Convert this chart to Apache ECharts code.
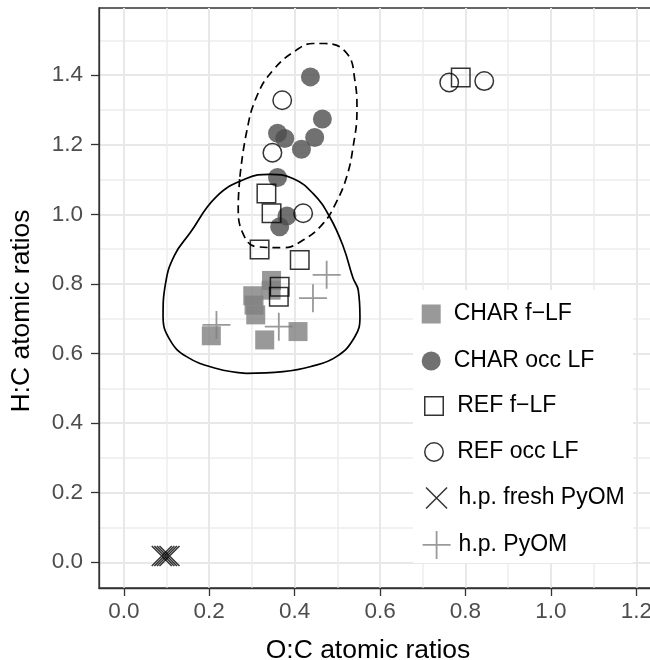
<!DOCTYPE html>
<html>
<head>
<meta charset="utf-8">
<script src="https://cdn.jsdelivr.net/npm/echarts@6.0.0/dist/echarts.min.js"></script>
<style>
  html, body { margin: 0; padding: 0; background: #fff; }
  #chart { width: 650px; height: 660px; }
</style>
</head>
<body>
<div id="chart"></div>
<script>
// values (O:C on x, H:C on y)
var charFlfX = [0.205, 0.330, 0.408, 0.302, 0.305, 0.309, 0.346, 0.345];
var charFlfY = [0.651, 0.639, 0.663, 0.766, 0.739, 0.711, 0.810, 0.782];

var charOccX = [0.437, 0.465, 0.360, 0.377, 0.447, 0.416, 0.360, 0.382, 0.365];
var charOccY = [1.395, 1.274, 1.233, 1.218, 1.221, 1.187, 1.106, 0.995, 0.964];

var refFlfX = [0.789, 0.334, 0.346, 0.318, 0.412, 0.365, 0.363];
var refFlfY = [1.393, 1.060, 1.003, 0.899, 0.869, 0.792, 0.763];

var refOccX = [0.762, 0.844, 0.371, 0.348, 0.420];
var refOccY = [1.379, 1.383, 1.328, 1.177, 1.003];

var freshX = [0.089, 0.095, 0.101, 0.107];
var freshY = [0.018, 0.018, 0.018, 0.018];

var pyomX = [0.217, 0.363, 0.443, 0.475];
var pyomY = [0.682, 0.677, 0.759, 0.826];

// outline of the solid (CHAR f-LF) and dashed (CHAR occ LF) ellipses
var solidX = [0.287, 0.217, 0.147, 0.108, 0.092, 0.098, 0.119, 0.155, 0.217, 0.287, 0.342, 0.396, 0.443, 0.482, 0.514, 0.537, 0.549, 0.553, 0.541, 0.498, 0.436, 0.373, 0.287];
var solidY = [0.543, 0.557, 0.591, 0.639, 0.706, 0.803, 0.883, 0.946, 1.051, 1.103, 1.115, 1.103, 1.060, 0.993, 0.907, 0.816, 0.782, 0.706, 0.648, 0.591, 0.562, 0.548, 0.543];

var dashX = [0.272, 0.287, 0.311, 0.350, 0.404, 0.443, 0.471, 0.522, 0.541, 0.546, 0.537, 0.522, 0.498, 0.467, 0.420, 0.373, 0.311, 0.279, 0.268, 0.272];
var dashY = [1.108, 1.233, 1.338, 1.415, 1.472, 1.491, 1.491, 1.463, 1.386, 1.300, 1.194, 1.108, 1.036, 0.974, 0.926, 0.904, 0.907, 0.945, 1.022, 1.108];

var xMajor = [0, 0.2, 0.4, 0.6, 0.8, 1.0, 1.2];
var xMinor = [0.1, 0.3, 0.5, 0.7, 0.9, 1.1];
var yMajor = [0, 0.2, 0.4, 0.6, 0.8, 1.0, 1.2, 1.4];
var yMinor = [0.1, 0.3, 0.5, 0.7, 0.9, 1.1, 1.3, 1.5];

var names = ['CHAR f\u2212LF', 'CHAR occ LF', 'REF f\u2212LF', 'REF occ LF', 'h.p. fresh PyOM', 'h.p. PyOM'];

var FONT = '"Liberation Sans", Arial, Helvetica, sans-serif';
var CROSS = 'path://M0,0L20,20M20,0L0,20';
var PLUS = 'path://M0,10L20,10M10,0L10,20';

function zip(xs, ys) {
  return xs.map(function(x, i) { return [x, ys[i]]; });
}

function fmt(v) {
  return v.toFixed(1);
}

var styles = [
  { symbol: 'rect', size: 19, item: { color: '#7f7f7f' } },
  { symbol: 'circle', size: 19, item: { color: '#4d4d4d' } },
  { symbol: 'rect', size: 18.5, item: { color: 'transparent', borderColor: '#000', borderWidth: 1.5 } },
  { symbol: 'circle', size: 18.5, item: { color: 'transparent', borderColor: '#000', borderWidth: 1.5 } },
  { symbol: CROSS, size: 20, item: { color: 'transparent', borderColor: '#000', borderWidth: 1.5 } },
  { symbol: PLUS, size: 28, item: { color: 'transparent', borderColor: '#7f7f7f', borderWidth: 1.8 } }
];

var groups = [
  zip(charFlfX, charFlfY),
  zip(charOccX, charOccY),
  zip(refFlfX, refFlfY),
  zip(refOccX, refOccY),
  zip(freshX, freshY),
  zip(pyomX, pyomY)
];

var series = groups.map(function(d, i) {
  return {
    name: names[i],
    type: 'scatter',
    data: d,
    symbol: styles[i].symbol,
    symbolSize: styles[i].size,
    itemStyle: styles[i].item,
    emphasis: { disabled: true },
    z: 2 + i * 0.01
  };
});

series.push({
  type: 'line',
  data: zip(solidX, solidY),
  smooth: 0.45,
  symbol: 'none',
  lineStyle: { color: '#000', width: 1.7 },
  z: 3
});
series.push({
  type: 'line',
  data: zip(dashX, dashY),
  smooth: 0.45,
  symbol: 'none',
  lineStyle: { color: '#000', width: 1.7, type: [8, 5] },
  z: 3
});

// legend: one component per key so each icon keeps its own size
var legendRows = [314, 361, 406, 452, 498, 544];
var legendLeft = [421.7, 421.7, 424, 424, 425.3, 421.7];
var legendPad = [8, 8, 9, 9, 6.5, 3];
var legendFont = 23;

var legends = names.map(function(n, i) {
  var st = styles[i];
  var w = st.size;
  if (i === 4) w = 21;
  var icon = st.symbol;
  return {
    data: [{ name: n, icon: icon, itemStyle: st.item }],
    left: legendLeft[i],
    top: legendRows[i] - Math.max(w, legendFont) / 2,
    orient: 'vertical',
    padding: 0,
    itemWidth: w,
    itemHeight: w,
    selectedMode: false,
    textStyle: { fontFamily: FONT, fontSize: legendFont, color: '#000', padding: [0, 0, 0, legendPad[i]] }
  };
});

function axisPair(dim, major, minor, min, max, extra) {
  var tickLine = { color: '#333333', width: 1.3 };
  var main = {
    type: 'value',
    min: min,
    max: max,
    axisLine: { show: true, onZero: false, lineStyle: tickLine },
    axisTick: { show: true, customValues: major, length: 8, lineStyle: tickLine },
    axisLabel: {
      customValues: major,
      formatter: fmt,
      color: '#4d4d4d',
      fontFamily: FONT,
      fontSize: 22.5,
      margin: dim === 'x' ? 12.5 : 16
    },
    splitLine: { show: true, lineStyle: { color: '#e8e8e8', width: 2 } },
    z: 0
  };
  for (var k in extra) main[k] = extra[k];
  var sub = {
    type: 'value',
    min: min,
    max: max,
    axisLine: { show: false },
    axisTick: { show: false, customValues: minor },
    axisLabel: { show: false },
    splitLine: { show: true, lineStyle: { color: '#ececec', width: 1.5 } },
    z: 0
  };
  if (dim === 'x') sub.position = 'bottom';
  else sub.position = 'left';
  return [main, sub];
}

var xAxes = axisPair('x', xMajor, xMinor, -0.058, 1.30, {
  name: 'O:C atomic ratios',
  nameLocation: 'middle',
  nameGap: 49,
  nameTextStyle: { fontFamily: FONT, fontSize: 26.5, color: '#000', padding: [0, 42, 0, 0] }
});
var yAxes = axisPair('y', yMajor, yMinor, -0.074, 1.593, {
  name: 'H:C atomic ratios',
  nameLocation: 'middle',
  nameGap: 64,
  nameTextStyle: { fontFamily: FONT, fontSize: 26.5, color: '#000', padding: [0, 26, 0, 0] }
});

var chart = echarts.init(document.getElementById('chart'), null, { renderer: 'canvas' });

var option = {
  animation: false,
  backgroundColor: '#fff',
  textStyle: { fontFamily: FONT },
  grid: {
    left: 99,
    top: 8,
    width: 580,
    height: 580,
    show: true,
    backgroundColor: '#fff',
    borderColor: '#333333',
    borderWidth: 1.3,
    containLabel: false,
    outerBoundsMode: 'none'
  },
  xAxis: xAxes,
  yAxis: yAxes,
  legend: legends,
  graphic: [{
    type: 'rect',
    shape: { x: 413, y: 290, width: 220, height: 273 },
    style: { fill: '#fff' },
    z: 3,
    silent: true
  }],
  series: series
};

chart.setOption(option);
</script>
</body>
</html>
